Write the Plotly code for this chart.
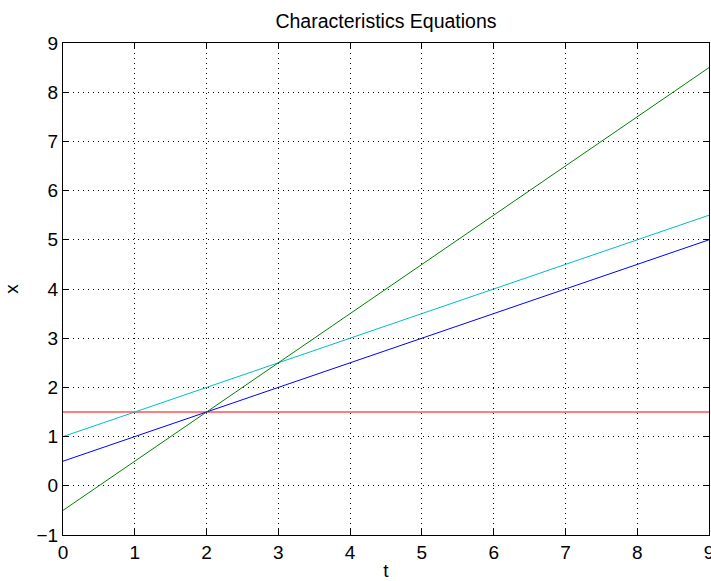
import plotly.graph_objects as go

t = [0, 9]
red_x = [1.5, 1.5]
blue_x = [0.5, 5.0]
cyan_x = [1.0, 5.5]
green_x = [-0.5, 8.5]

x_ticks = list(range(0, 10))
y_ticks = list(range(-1, 10))
y_tick_text = ["\u22121"] + [str(v) for v in range(0, 10)]

series = [
    (red_x, "rgb(255,0,0)"),
    (blue_x, "rgb(0,0,255)"),
    (cyan_x, "rgb(0,191,191)"),
    (green_x, "rgb(0,128,0)"),
]

fig = go.Figure()
for ys, col in series:
    fig.add_trace(go.Scatter(x=t, y=ys, mode="lines",
                             line=dict(color=col, width=1), showlegend=False))

FAM = "Liberation Sans, Arial, sans-serif"
font = dict(family=FAM, size=19, color="black")
axis_common = dict(
    showline=True, linecolor="black", linewidth=1, mirror="ticks",
    ticks="inside", ticklen=6, tickcolor="black", tickwidth=1,
    showgrid=True, gridcolor="black", gridwidth=1, griddash="1px,4px",
    zeroline=False, tickfont=font, ticklabeloverflow="allow", automargin=False,
)
fig.update_layout(
    width=711, height=581,
    margin=dict(l=63, r=2, t=43, b=46, autoexpand=False),
    paper_bgcolor="white", plot_bgcolor="white",
    title=dict(text="Characteristics Equations", x=0.5, xref="paper", xanchor="center",
               y=1 - 21 / 581, yanchor="middle",
               font=dict(family=FAM, size=19.5, color="black")),
    xaxis=dict(range=[0, 9], tickvals=x_ticks, title=dict(text="t", font=font, standoff=2),
               **axis_common),
    yaxis=dict(range=[-1, 9], tickvals=y_ticks, ticktext=y_tick_text,
               title=dict(text="x", font=font, standoff=12), **axis_common),
)
fig.write_html("out.html")
